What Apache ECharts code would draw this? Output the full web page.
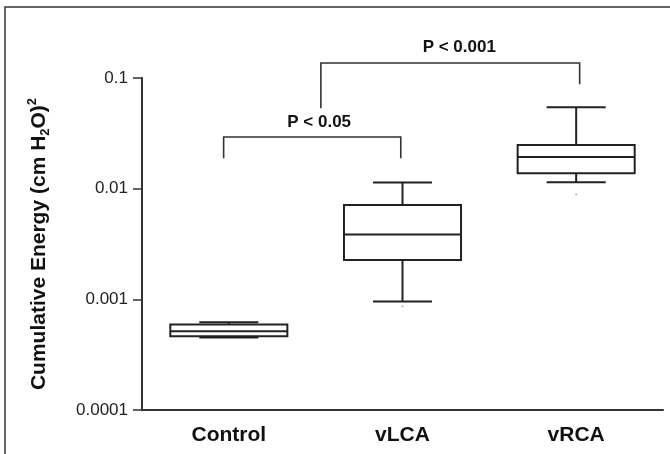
<!DOCTYPE html>
<html>
<head>
<meta charset="utf-8">
<script src="https://cdn.jsdelivr.net/npm/echarts@6/dist/echarts.min.js"></script>
<style>
    html, body { margin: 0; padding: 0; background: #fff; }
    #container { width: 670px; height: 454px; }
</style>
</head>
<body>
<div id="container"></div>
<script>
    // groups and box summary values (log scale)
    var categories = ['Control', 'vLCA', 'vRCA'];
    var whiskerLow = [0.000452, 0.000955, 0.01142];
    var q1 = [0.000464, 0.00227, 0.01377];
    var median = [0.000515, 0.00385, 0.01934];
    var q3 = [0.000592, 0.00713, 0.0248];
    var whiskerHigh = [0.000621, 0.01135, 0.0543];
    // small stray points under the whiskers
    var dotX = [1, 2];
    var dotY = [0.000867, 0.00885];
    var yTickLabels = ['0.0001', '0.001', '0.01', '0.1'];

    // significance brackets (x in category units, y in data units)
    var bracketText = ['P < 0.05', 'P < 0.001'];
    var bracketFrom = [-0.03, 0.53];
    var bracketTo = [0.99, 2.02];
    var bracketTop = [0.0293, 0.1366];
    var bracketLeftEnd = [0.0188, 0.0532];
    var bracketRightEnd = [0.0188, 0.0877];
    var bracketTextX = [0.52, 1.327];
    var bracketTextY = [0.0398, 0.1905];

    var fontFamily = '"Liberation Sans", Arial, sans-serif';
    var ink = '#222';

    var boxData = categories.map(function (c, i) {
        return [i, whiskerLow[i], q1[i], median[i], q3[i], whiskerHigh[i]];
    });
    var bracketData = bracketText.map(function (t, i) {
        return [bracketFrom[i], bracketTo[i], bracketTop[i], bracketLeftEnd[i], bracketRightEnd[i], bracketTextX[i], bracketTextY[i]];
    });
    var dotData = dotX.map(function (x, i) { return [x, dotY[i]]; });

    function renderBox(params, api) {
        var i = api.value(0);
        var band = api.size([1, 0])[0];
        var cx = api.coord([i, api.value(3)])[0];
        var yLow = api.coord([i, api.value(1)])[1];
        var yQ1 = api.coord([i, api.value(2)])[1];
        var yMed = api.coord([i, api.value(3)])[1];
        var yQ3 = api.coord([i, api.value(4)])[1];
        var yHigh = api.coord([i, api.value(5)])[1];
        var bh = band * 0.337;
        var ch = band * 0.17;
        var st = { stroke: ink, lineWidth: 2, fill: null };
        return {
            type: 'group',
            children: [
                { type: 'line', shape: { x1: cx, y1: yHigh, x2: cx, y2: yQ3 }, style: st },
                { type: 'line', shape: { x1: cx, y1: yQ1, x2: cx, y2: yLow }, style: st },
                { type: 'line', shape: { x1: cx - ch, y1: yHigh, x2: cx + ch, y2: yHigh }, style: st },
                { type: 'line', shape: { x1: cx - ch, y1: yLow, x2: cx + ch, y2: yLow }, style: st },
                { type: 'rect', shape: { x: cx - bh, y: yQ3, width: bh * 2, height: yQ1 - yQ3 }, style: { stroke: ink, lineWidth: 2, fill: '#fff' } },
                { type: 'line', shape: { x1: cx - bh, y1: yMed, x2: cx + bh, y2: yMed }, style: st }
            ]
        };
    }

    function renderBracket(params, api) {
        var band = api.size([1, 0])[0];
        var x0 = api.coord([0, api.value(2)])[0];
        var xa = x0 + api.value(0) * band;
        var xb = x0 + api.value(1) * band;
        var yTop = api.coord([0, api.value(2)])[1];
        var yL = api.coord([0, api.value(3)])[1];
        var yR = api.coord([0, api.value(4)])[1];
        var tx = x0 + api.value(5) * band;
        var ty = api.coord([0, api.value(6)])[1];
        return {
            type: 'group',
            children: [
                { type: 'polyline', shape: { points: [[xa, yL], [xa, yTop], [xb, yTop], [xb, yR]] }, style: { stroke: '#333', lineWidth: 1.6, fill: null } },
                { type: 'text', x: tx, y: ty, style: { text: bracketText[params.dataIndex], fill: '#111', font: 'bold 17px ' + fontFamily, align: 'center', verticalAlign: 'middle' } }
            ]
        };
    }

    var myChart = echarts.init(document.getElementById('container'));
    var option = {
        animation: false,
        backgroundColor: '#fff',
        graphic: [{
            type: 'rect',
            shape: { x: 5, y: 7, width: 690, height: 470 },
            style: { stroke: '#333', lineWidth: 1.5, fill: null },
            silent: true
        }],
        grid: { left: 142, right: 7, top: 78, bottom: 44 },
        xAxis: {
            type: 'category',
            data: categories,
            boundaryGap: true,
            axisLine: { lineStyle: { color: '#333', width: 2 } },
            axisTick: { alignWithLabel: true, length: 8, lineStyle: { color: '#333', width: 1.5 } },
            axisLabel: { color: '#111', fontSize: 21, fontWeight: 'bold', fontFamily: fontFamily, margin: 15 }
        },
        yAxis: {
            type: 'log',
            logBase: 10,
            min: 0.0001,
            max: 0.1,
            splitLine: { show: false },
            axisLine: { show: true, lineStyle: { color: '#333', width: 2 } },
            axisTick: { show: true, length: 9, lineStyle: { color: '#333', width: 1.5 } },
            axisLabel: {
                color: '#222', fontSize: 17, fontFamily: fontFamily, margin: 14,
                formatter: function (v) { return yTickLabels[Math.round(Math.log10(v)) + 4]; }
            },
            name: '{a|Cumulative Energy (cm H}{s|2}{a|O)}{p|2}',
            nameLocation: 'middle',
            nameGap: 90,
            nameTextStyle: {
                rich: {
                    a: { fontSize: 21, fontWeight: 'bold', fontFamily: fontFamily, color: '#111', lineHeight: 26, verticalAlign: 'middle' },
                    s: { fontSize: 13, fontWeight: 'bold', fontFamily: fontFamily, color: '#111', lineHeight: 26, verticalAlign: 'bottom' },
                    p: { fontSize: 13, fontWeight: 'bold', fontFamily: fontFamily, color: '#111', lineHeight: 26, verticalAlign: 'top' }
                }
            }
        },
        series: [
            {
                type: 'custom',
                renderItem: renderBox,
                encode: { x: 0, y: [1, 2, 3, 4, 5] },
                data: boxData,
                z: 3
            },
            {
                type: 'scatter',
                data: dotData,
                symbolSize: 2,
                itemStyle: { color: '#999' },
                z: 2
            },
            {
                type: 'custom',
                renderItem: renderBracket,
                encode: { x: [0, 1], y: [2, 3, 4] },
                clip: false,
                data: bracketData,
                z: 4
            }
        ]
    };
    myChart.setOption(option, true);
</script>
</body>
</html>
